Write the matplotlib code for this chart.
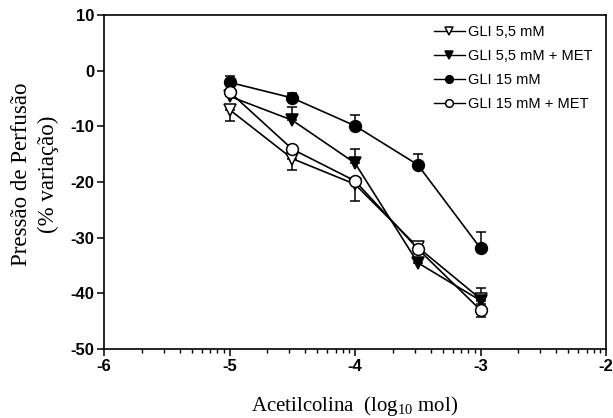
#!/usr/bin/env python3
# perfusion pressure vs acetylcholine dose, four glucose groups

import numpy as np
import matplotlib
matplotlib.use('Agg')
import matplotlib.pyplot as plt
from matplotlib.ticker import FixedLocator

plt.rcParams['axes.unicode_minus'] = False

# log10 dose of acetylcholine
dose = [-5.0, -4.5, -4.0, -3.5, -3.0]

# % change in perfusion pressure (mean) and one-sided error
gli55 = [-7.0, -15.8, -20.4, -31.7, -41.0]
gli55_err = [2.0, 2.0, 3.0, 0.6, 1.0]        # drawn downward
gli55_met = [-4.6, -8.9, -16.6, -34.5, -41.3]
gli55_met_err = [0.6, 2.3, 2.6, 0.6, 2.2]    # drawn upward
gli15 = [-2.1, -4.9, -9.9, -16.9, -31.9]
gli15_err = [1.2, 0.9, 2.0, 2.0, 3.0]        # upward
gli15_met = [-3.8, -14.1, -19.8, -32.0, -43.0]
gli15_met_err = [0.6, 0.5, 0.5, 0.5, 1.3]    # downward

labels = ['GLI 5,5 mM', 'GLI 5,5 mM + MET', 'GLI 15 mM', 'GLI 15 mM + MET']

fig = plt.figure(figsize=(6.13, 4.18), dpi=100)
ax = fig.add_axes([104/613, 1-349/418, (606-104)/613, (349-15)/418])

zero = [0]*len(dose)
series = [
    (gli55, [gli55_err, zero], 'v', 'white'),
    (gli55_met, [zero, gli55_met_err], 'v', 'black'),
    (gli15, [zero, gli15_err], 'o', 'black'),
    (gli15_met, [gli15_met_err, zero], 'o', 'white'),
]

for (y, yerr, mk, fc), lab in zip(series, labels):
    ax.errorbar(dose, y, yerr=yerr, fmt='none', ecolor='black',
                elinewidth=1.1, capsize=3.6, capthick=1.1, zorder=2)
    ax.plot(dose, y, color='black', lw=1.2, marker=mk, markersize=8.5,
            markerfacecolor=fc, markeredgecolor='black', markeredgewidth=1.1,
            label=lab, zorder=3)

ax.set_xlim(-6, -2)
ax.set_ylim(-50, 10)
ax.set_xticks([-6, -5, -4, -3, -2])
ax.set_yticks(np.arange(-50, 11, 10))
minor = [d + np.log10(k) for d in range(-6, -2) for k in range(2, 10)]
ax.xaxis.set_minor_locator(FixedLocator(minor))

ax.tick_params(axis='both', which='major', direction='out', length=5,
               width=1.1, labelsize=12, pad=2)
ax.tick_params(axis='x', which='minor', direction='out', length=3, width=1.0)
for lb in ax.get_xticklabels() + ax.get_yticklabels():
    lb.set_fontfamily('Liberation Sans')
    lb.set_fontweight('bold')
for sp in ax.spines.values():
    sp.set_linewidth(1.2)

fig.text(355/613, 1-411/418, r'Acetilcolina  (log$_\mathregular{10}$ mol)',
         ha='center', va='baseline', fontsize=15, family='Liberation Serif')
fig.text(35/613, 1-174/418, 'Pressão de Perfusão\n(% variação)',
         rotation=90, ha='center', va='center', fontsize=16.5,
         family='Liberation Serif', linespacing=1.3)

leg = ax.legend(loc='upper left', bbox_to_anchor=(434/613, 1-25/418),
                bbox_transform=fig.transFigure, frameon=False,
                prop={'family': 'Liberation Sans', 'size': 10.5},
                handlelength=2.1, handletextpad=0.2, labelspacing=0.68,
                borderpad=0, borderaxespad=0, markerscale=0.65)
for ln in leg.get_lines():
    ln.set_linewidth(1.0)

fig.savefig('out.png', dpi=100)
